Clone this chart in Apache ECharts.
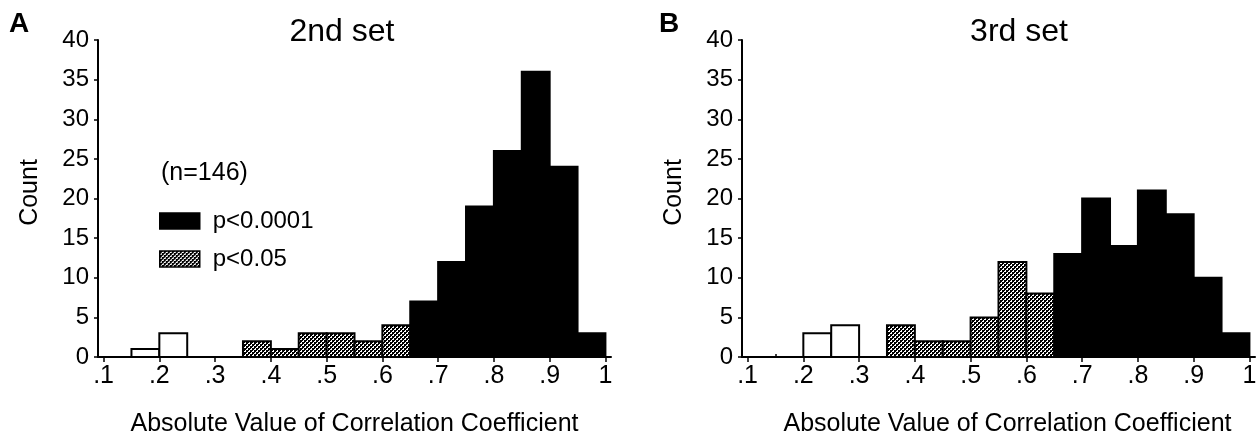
<!DOCTYPE html>
<html>
<head>
<meta charset="utf-8">
<script src="https://cdn.jsdelivr.net/npm/echarts@6/dist/echarts.min.js"></script>
<style>
  html, body { margin: 0; padding: 0; background: #fff; }
  #chart { width: 1259px; height: 436px; }
</style>
</head>
<body>
<div id="chart"></div>
<script>
// Histogram bins: lower edge of each bin, all bins 0.05 wide
const binStarts = [0.10, 0.15, 0.20, 0.25, 0.30, 0.35, 0.40, 0.45, 0.50,
                   0.55, 0.60, 0.65, 0.70, 0.75, 0.80, 0.85, 0.90, 0.95];
const binWidth = 0.05;

// 2nd set (n=146)
const set2NotSig = [0, 1, 3, 0, 0, 0, 0, 0, 0, 0, 0, 0, 0, 0, 0, 0, 0, 0];
const set2P05    = [0, 0, 0, 0, 0, 2, 1, 3, 3, 2, 4, 0, 0, 0, 0, 0, 0, 0];
const set2P0001  = [0, 0, 0, 0, 0, 0, 0, 0, 0, 0, 0, 7, 12, 19, 26, 36, 24, 3];

// 3rd set
const set3NotSig = [0, 0, 3, 4, 0, 0, 0, 0, 0, 0, 0, 0, 0, 0, 0, 0, 0, 0];
const set3P05    = [0, 0, 0, 0, 0, 4, 2, 2, 5, 12, 8, 0, 0, 0, 0, 0, 0, 0];
const set3P0001  = [0, 0, 0, 0, 0, 0, 0, 0, 0, 0, 0, 13, 20, 14, 21, 18, 10, 3];

// Axis ticks
const xMajorTicks = [0.1, 0.2, 0.3, 0.4, 0.5, 0.6, 0.7, 0.8, 0.9, 1];
const xMinorTicks = [0.15, 0.25, 0.35, 0.45, 0.55, 0.65, 0.75, 0.85, 0.95];
const xTickLabels = ['.1', '.2', '.3', '.4', '.5', '.6', '.7', '.8', '.9', '1'];

const panelTitles = ['2nd set', '3rd set'];
const panelLetters = ['A', 'B'];
const legendNames = ['p<0.0001', 'p<0.05'];
const notSigName = 'n.s.';
const sampleNote = '(n=146)';
const xName = 'Absolute Value of Correlation Coefficient';
const yName = 'Count';

const FONT = 'Liberation Sans, Arial, Helvetica, sans-serif';

// Halftone fill for the p<0.05 bars (2px checker)
const tile = document.createElement('canvas');
tile.width = 4; tile.height = 4;
const tc = tile.getContext('2d');
tc.fillStyle = '#fff'; tc.fillRect(0, 0, 4, 4);
tc.fillStyle = '#000'; tc.fillRect(0, 0, 2, 2); tc.fillRect(2, 2, 2, 2);
tc.fillRect(2, 0, 1, 1); tc.fillRect(0, 2, 1, 1);
const dither = { image: tile, repeat: 'repeat' };

function binData(counts) {
  return binStarts.map((s, i) => [s, +(s + binWidth).toFixed(2), counts[i]]);
}

function histSeries(name, counts, fill, axisIdx) {
  return {
    type: 'custom',
    name: name,
    xAxisIndex: axisIdx * 2,
    yAxisIndex: axisIdx,
    itemStyle: { color: fill, borderColor: '#000' },
    encode: { x: [0, 1], y: 2 },
    data: binData(counts),
    renderItem: function (params, api) {
      const n = api.value(2);
      if (!n) return null;
      const topLeft = api.coord([api.value(0), n]);
      const botRight = api.coord([api.value(1), 0]);
      return {
        type: 'rect',
        shape: {
          x: topLeft[0], y: topLeft[1],
          width: botRight[0] - topLeft[0],
          height: botRight[1] - topLeft[1]
        },
        style: { fill: fill, stroke: '#000', lineWidth: 2 }
      };
    }
  };
}

const grids = [
  { left: 98, top: 40, width: 513, height: 317, outerBoundsMode: 'none', containLabel: false },
  { left: 742, top: 40, width: 513, height: 317, outerBoundsMode: 'none', containLabel: false }
];

function mainXAxis(g) {
  return {
    type: 'value', gridIndex: g, min: 0.09, max: 1.01,
    axisLine: { show: true, onZero: false, lineStyle: { color: '#000', width: 2 } },
    axisTick: { show: true, customValues: xMajorTicks, length: 5, lineStyle: { color: '#000', width: 1.5 } },
    axisLabel: {
      show: true, customValues: xMajorTicks, margin: 7,
      color: '#000', fontSize: 25, fontFamily: FONT,
      formatter: v => xTickLabels[xMajorTicks.findIndex(t => Math.abs(t - v) < 1e-6)]
    },
    splitLine: { show: false },
    name: xName, nameLocation: 'middle', nameGap: 55,
    nameTextStyle: { color: '#000', fontSize: 25, fontFamily: FONT, padding: g === 1 ? [0, 0, 0, 18] : 0 }
  };
}

function minorXAxis(g) {
  return {
    type: 'value', gridIndex: g, min: 0.09, max: 1.01,
    axisLine: { show: false },
    axisTick: { show: true, customValues: xMinorTicks, length: 3, lineStyle: { color: '#000', width: 1.5 } },
    axisLabel: { show: false },
    splitLine: { show: false }
  };
}

function countYAxis(g) {
  return {
    type: 'value', gridIndex: g, min: 0, max: 40, interval: 5,
    axisLine: { show: true, onZero: false, lineStyle: { color: '#000', width: 2 } },
    axisTick: { show: true, length: 4, lineStyle: { color: '#000', width: 1.5 } },
    axisLabel: { color: '#000', fontSize: 24, fontFamily: FONT, margin: 9 },
    splitLine: { show: false },
    name: yName, nameLocation: 'middle', nameGap: 55,
    nameTextStyle: { color: '#000', fontSize: 25, fontFamily: FONT, padding: [0, 0, 0, 12] }
  };
}

const chart = echarts.init(document.getElementById('chart'), null, { renderer: 'canvas' });

chart.setOption({
  animation: false,
  backgroundColor: '#fff',
  grid: grids,
  xAxis: [mainXAxis(0), minorXAxis(0), mainXAxis(1), minorXAxis(1)],
  yAxis: [countYAxis(0), countYAxis(1)],
  legend: {
    data: legendNames,
    left: 159, top: 209,
    padding: 0,
    orient: 'vertical',
    icon: 'rect',
    itemWidth: 40, itemHeight: 16, itemGap: 14,
    selectedMode: false,
    itemStyle: { borderColor: '#000', borderWidth: 1.5 },
    textStyle: { color: '#000', fontSize: 24, fontFamily: FONT, padding: [0, 0, 0, 8] }
  },
  graphic: [
    { type: 'text', x: 9, y: 10, style: { text: panelLetters[0], font: 'bold 28px ' + FONT, fill: '#000' } },
    { type: 'text', x: 659, y: 10, style: { text: panelLetters[1], font: 'bold 28px ' + FONT, fill: '#000' } },
    { type: 'text', x: 342, y: 16, style: { text: panelTitles[0], font: '32px ' + FONT, fill: '#000', textAlign: 'center' } },
    { type: 'text', x: 1019, y: 16, style: { text: panelTitles[1], font: '32px ' + FONT, fill: '#000', textAlign: 'center' } },
    { type: 'text', x: 161, y: 161, style: { text: sampleNote, font: '25px ' + FONT, fill: '#000' } }
  ],
  series: [
    histSeries(notSigName, set2NotSig, '#fff', 0),
    histSeries(legendNames[1], set2P05, dither, 0),
    histSeries(legendNames[0], set2P0001, '#000', 0),
    histSeries(notSigName, set3NotSig, '#fff', 1),
    histSeries(legendNames[1], set3P05, dither, 1),
    histSeries(legendNames[0], set3P0001, '#000', 1)
  ]
});
</script>
</body>
</html>
